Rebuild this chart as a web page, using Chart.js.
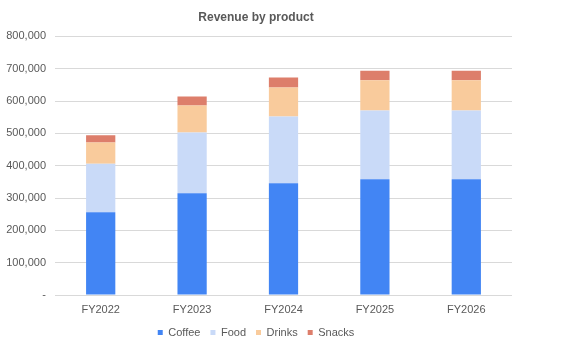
<!DOCTYPE html>
<html>
<head>
<meta charset="utf-8">
<script src="https://cdn.jsdelivr.net/npm/chart.js@4/dist/chart.umd.min.js"></script>
<style>
  html, body { margin: 0; padding: 0; background: #fff; }
  #wrap { width: 574px; height: 348px; }
</style>
</head>
<body>
<div id="wrap"><canvas id="chart" width="574" height="348"></canvas></div>
<script>
// data
const years = ['FY2022', 'FY2023', 'FY2024', 'FY2025', 'FY2026'];
const coffee = [256000, 315000, 346000, 358000, 358000];
const food = [150000, 188000, 206000, 213000, 213000];
const drinks = [66000, 83000, 90000, 93000, 93000];
const snacks = [22000, 28000, 31000, 30000, 30000];

const textColor = '#595959';
const fontFamily = 'Arial, "Liberation Sans", sans-serif';

function series(label, data, color) {
    return {
        label: label,
        data: data,
        backgroundColor: color,
        borderWidth: 0,
        categoryPercentage: 1,
        barPercentage: 0.32
    };
}

const ctx = document.getElementById('chart').getContext('2d');
new Chart(ctx, {
    type: 'bar',
    data: {
        labels: years,
        datasets: [
            series('Coffee', coffee, '#4285f4'),
            series('Food', food, '#c9daf8'),
            series('Drinks', drinks, '#f9cb9c'),
            series('Snacks', snacks, '#dd7e6b')
        ]
    },
    options: {
        responsive: false,
        animation: false,
        layout: {
            padding: { left: 0, right: 62, top: 10, bottom: 0 }
        },
        plugins: {
            title: {
                display: true,
                text: 'Revenue by product',
                color: textColor,
                font: { family: fontFamily, size: 12, weight: 'bold' },
                padding: { top: 0, bottom: 12 }
            },
            legend: {
                position: 'bottom',
                labels: {
                    color: textColor,
                    font: { family: fontFamily, size: 11 },
                    boxWidth: 5,
                    boxHeight: 5,
                    padding: 10
                }
            },
            tooltip: { enabled: false }
        },
        scales: {
            x: {
                stacked: true,
                afterFit: (axis) => { axis.height = 22; },
                grid: { display: false, drawTicks: false },
                border: { display: false },
                ticks: {
                    color: textColor,
                    font: { family: fontFamily, size: 11 },
                    padding: 8
                }
            },
            y: {
                stacked: true,
                min: 0,
                max: 800000,
                afterFit: (axis) => { axis.width = 55; },
                grid: { color: '#d9d9d9', drawTicks: false },
                border: { display: false },
                ticks: {
                    stepSize: 100000,
                    color: textColor,
                    font: { family: fontFamily, size: 11 },
                    padding: 9,
                    callback: (v) => v === 0 ? '-' : v.toLocaleString('en-US')
                }
            }
        }
    }
});
</script>
</body>
</html>
